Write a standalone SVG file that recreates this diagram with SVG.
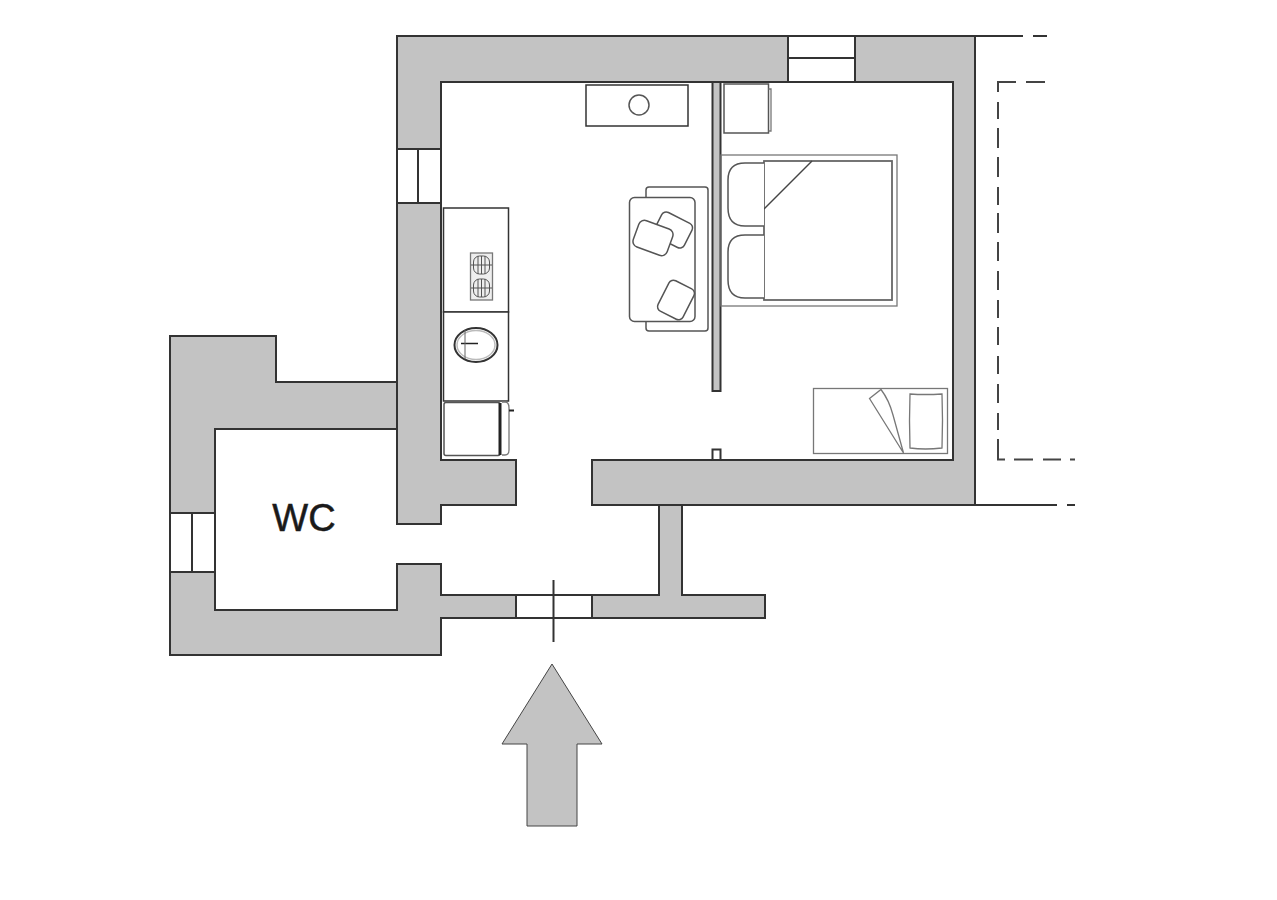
<svg xmlns="http://www.w3.org/2000/svg" width="1277" height="900" viewBox="0 0 1277 900">
<style>
.wall{fill:#c3c3c3;stroke:#333;stroke-width:2;stroke-linejoin:miter}
.win{fill:#fff;stroke:#333;stroke-width:2}
.ln{fill:none;stroke:#333;stroke-width:2}
.fur{fill:#fff;stroke:#555;stroke-width:1.5}
.dark{stroke:#333}
.thin{fill:none;stroke:#777;stroke-width:1.3}
.dash{fill:none;stroke:#444;stroke-width:2}
</style>
<rect width="1277" height="900" fill="#fff"/>
<g id="walls">
<path class="wall" d="M397,36H975V505H592V460H953V82H441V460H516V505H441V524H397Z"/>
<path class="wall" d="M397,382H276V336H170V655H441V618H516V595H441V564H397V610H215V429H397Z"/>
<path class="wall" d="M592,595H659V505H682V595H765V618H592Z"/>
<path class="ln" d="M592,505H778"/>
</g>
<g id="windows">
<rect class="win" x="788" y="36" width="67" height="46"/><path class="ln" d="M788,58H855"/>
<rect class="win" x="397" y="149" width="44" height="54"/><path class="ln" d="M418,149V203"/>
<rect class="win" x="170" y="513" width="45" height="59"/><path class="ln" d="M192,513V572"/>
</g>
<g id="entrance-door">
<rect class="win" x="516" y="595" width="76" height="23"/>
<path class="ln" d="M553.500,580V642"/>
</g>
<g id="partition">
<rect x="712.500" y="82" width="8" height="309" fill="#c3c3c3" stroke="#333" stroke-width="2"/>
<rect x="712.500" y="449.500" width="8" height="10.500" fill="#fff" stroke="#333" stroke-width="2"/>
</g>
<g id="table">
<rect class="fur dark" x="586" y="85" width="102" height="41"/>
<circle class="fur" cx="639" cy="105" r="10"/>
</g>
<g id="nightstand">
<rect class="fur" x="724" y="84" width="44.500" height="49"/>
<path class="thin" d="M768.500,89H771V131H768.500"/>
</g>
<g id="double-bed">
<rect class="thin" x="721" y="155" width="176" height="151"/>
<rect x="764" y="161" width="128" height="139" fill="#fff" stroke="#666" stroke-width="1.800"/>
<path fill="none" stroke="#444" stroke-width="1.500" d="M764,209L812,161"/>
<path class="fur" d="M764,163H745Q728,163 728,180V208Q728,226 745,226H764"/>
<path class="fur" d="M764,235H745Q728,235 728,252V280Q728,298 745,298H764"/>
</g>
<g id="sofa">
<path class="fur" d="M646,197V190Q646,187 649,187H705Q708,187 708,190V328Q708,331 705,331H649Q646,331 646,328V321"/>
<rect class="fur" x="629.500" y="197.500" width="65.500" height="124" rx="5"/>
<rect class="fur" x="-17" y="-13.500" width="34" height="27" rx="5" transform="translate(673,230) rotate(27)"/>
<rect class="fur" x="-18" y="-14" width="36" height="28" rx="6" transform="translate(653,238) rotate(20)"/>
<rect class="fur" x="-14" y="-17" width="28" height="34" rx="5" transform="translate(676,300) rotate(27)"/>
</g>
<g id="kitchen">
<rect class="fur dark" x="443.500" y="208" width="65" height="104"/>
<rect class="fur dark" x="443.500" y="312" width="65" height="89"/>
<rect x="470.500" y="253" width="22" height="47" fill="#eee" stroke="#777" stroke-width="1.300"/>
<g fill="none" stroke="#555" stroke-width="1">
<rect x="473.500" y="256" width="16" height="18" rx="6"/><rect x="473.500" y="279" width="16" height="18" rx="6"/>
<path d="M478,256V274M481.500,256V274M485,256V274M478,279V297M481.500,279V297M485,279V297M471,265H492M471,288H492"/>
</g>
<ellipse cx="476" cy="345" rx="21.500" ry="17" fill="#fff" stroke="#333" stroke-width="2"/>
<ellipse cx="476" cy="345" rx="19" ry="14.500" fill="none" stroke="#bbb" stroke-width="1.500"/>
<path d="M461,343.500H478" stroke="#222" stroke-width="1.500"/><path d="M465,330V359" stroke="#666"/>
<rect class="fur" x="444" y="402.500" width="56" height="53" rx="2"/>
<path d="M500,403V455" stroke="#222" stroke-width="3"/>
<path class="thin" d="M502,402H505Q509,402 509,408V450Q509,455 505,455H502"/>
<path d="M509,410.500H514" stroke="#222" stroke-width="2"/>
</g>
<g id="single-bed">
<rect class="thin" x="813.500" y="388.500" width="134" height="65"/>
<path class="thin" d="M869.500,398.500L881,389.500Q889,400 893,415L903.500,453Z"/>
<path class="thin" d="M910,394Q925,395 942,394Q943,420 942,448Q925,450 910,448Q909,420 910,394Z"/>
</g>
<g id="balcony">
<path class="ln" d="M975,36H1023M1033,36H1047"/>
<path class="ln" d="M975,505H1057M1067,505H1075"/>
<path class="dash" d="M1016,82H998V92M998,102V119M998,128V148M998,157V177M998,187V205M998,213V233M998,242V261M998,271V290M998,300V318M998,327V345M998,356V374M998,384V403M998,413V430M998,439V459.500H1005M1014,459.500H1033M1043,459.500H1061M1070,459.500H1075M1026,82H1045"/>
</g>
<g id="wc-label">
<text x="304" y="531" font-family="'Liberation Sans',Arial,sans-serif" font-size="38" text-anchor="middle" fill="#1a1a1a" stroke="#1a1a1a" stroke-width="0.500">WC</text>
</g>
<g id="entry-arrow">
<path fill="#c3c3c3" stroke="#444" stroke-width="1" d="M552,664L602,744H577V826H527V744H502Z"/>
</g>
</svg>
